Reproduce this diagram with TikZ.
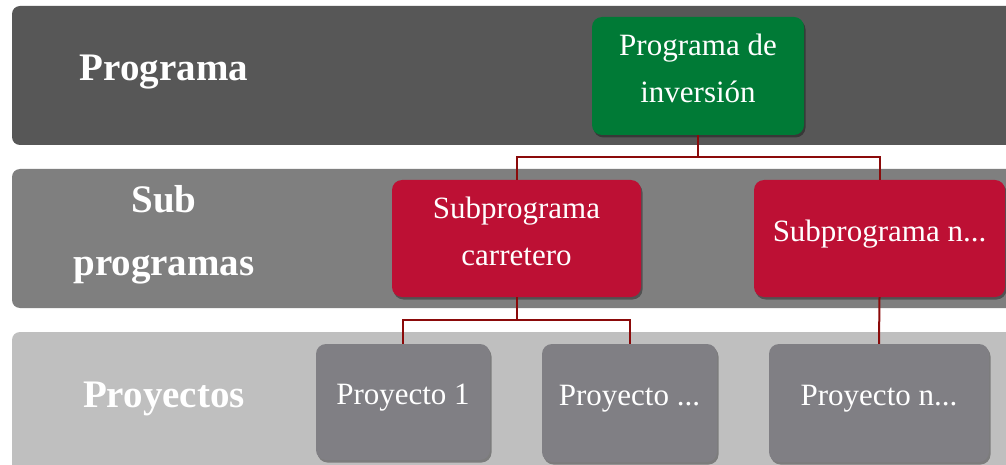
\documentclass[tikz,border=0pt]{standalone}
\usepackage{fontspec}
\setmainfont{Liberation Serif}
\usetikzlibrary{shadows}
\definecolor{bandA}{HTML}{575757}
\definecolor{bandB}{HTML}{7F7F7F}
\definecolor{bandC}{HTML}{BFBFBF}
\definecolor{progG}{HTML}{007A36}
\definecolor{subR}{HTML}{BD1034}
\definecolor{projG}{HTML}{807F84}
\definecolor{linkR}{HTML}{8B0A0A}
\tikzset{
  band/.style={rounded corners=8pt},
  boxbase/.style={rectangle, rounded corners=10pt, inner sep=0pt, align=center,
    text=white, text depth=15pt,
    font=\fontsize{31}{47}\selectfont,
    drop shadow={shadow xshift=1.5pt, shadow yshift=-2.5pt, opacity=0.35, fill=black}},
  progbox/.style={boxbase, fill=progG},
  subbox/.style={boxbase, fill=subR},
  projbox/.style={boxbase, fill=projG},
  levellabel/.style={anchor=base, text=white, font=\fontsize{39}{47}\selectfont\bfseries},
  link/.style={draw=linkR, line width=2pt}
}
\begin{document}
\begin{tikzpicture}[x=1pt,y=-1pt]
\clip (0,0) rectangle (1006,465);
\fill[white] (0,0) rectangle (1006,465);
% bands
\fill[band, bandA] (12,6) rectangle (1040,145);
\fill[band, bandB] (12,169) rectangle (1040,308);
\fill[band, bandC] (12,332) rectangle (1040,500);
% level labels
\node[levellabel] (lprog) at (164,81) {Programa};
\node[levellabel] (lsub1) at (164,212) {Sub};
\node[levellabel] (lsub2) at (164,275) {programas};
\node[levellabel] (lproj) at (164,407) {Proyectos};
% coordinates for connector levels
\coordinate (h1) at (0,157);
\coordinate (h2) at (0,320);
% boxes
\node[progbox, minimum width=212pt, minimum height=118pt] (prog) at (698,76) {Programa de\\inversión};
\node[subbox, minimum width=249pt, minimum height=117pt] (sub1) at (516.5,238.5) {Subprograma\\carretero};
\node[subbox, minimum width=251pt, minimum height=117pt] (subn) at (879.5,238.5) {Subprograma n...};
\node[projbox, minimum width=174pt, minimum height=116pt] (p1) at (403,402) {Proyecto 1};
\node[projbox, minimum width=175pt, minimum height=118pt] (p2) at (629.5,403) {Proyecto ...};
\node[projbox, minimum width=220pt, minimum height=118pt] (p3) at (879,403) {Proyecto n...};
% connectors
\draw[link] (prog.south) -- (prog.south |- h1) -| (sub1.north);
\draw[link] (prog.south |- h1) -| (subn.north);
\draw[link] (sub1.south) -- (sub1.south |- h2) -| (p1.north);
\draw[link] (sub1.south |- h2) -| (p2.north);
\draw[link] (subn.south) -- (p3.north);
\end{tikzpicture}
\end{document}
